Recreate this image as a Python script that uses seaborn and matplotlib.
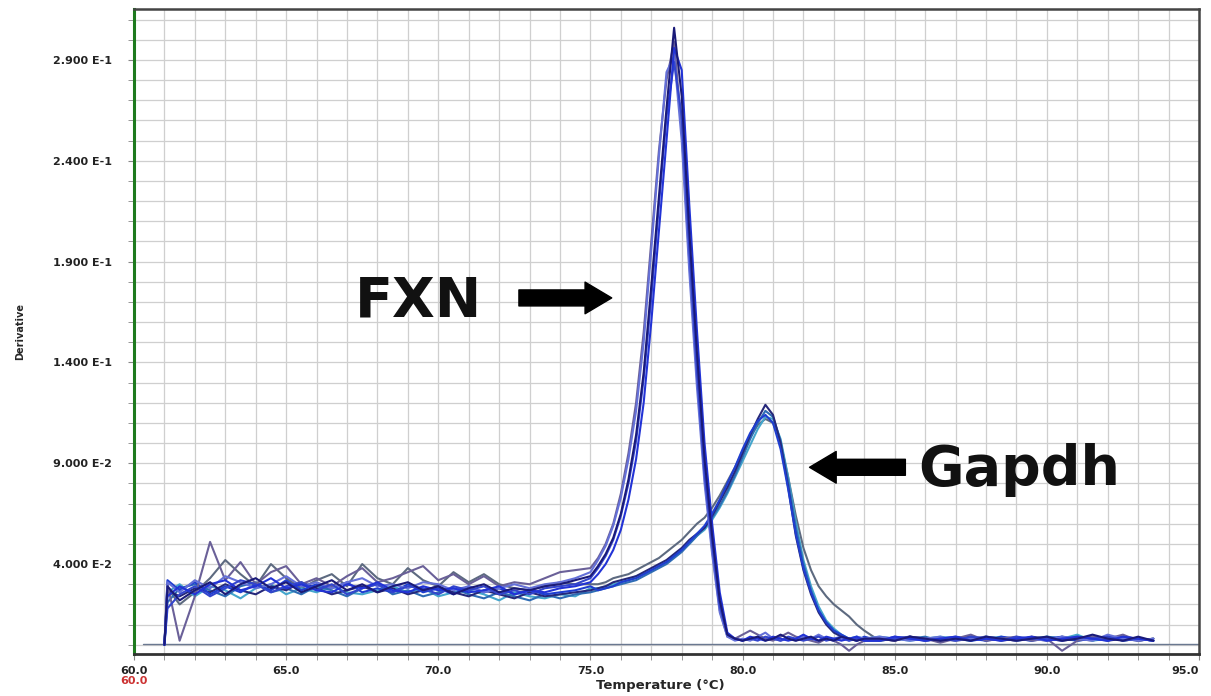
import numpy as np
import pandas as pd
import matplotlib
matplotlib.use("Agg")
import matplotlib.pyplot as plt
from matplotlib.ticker import MultipleLocator, FixedLocator, FuncFormatter
import seaborn as sns

# ---------------- data ----------------
temps = [61.0, 61.1, 61.5, 62.0, 62.5, 63.0, 63.5, 64.0, 64.5, 65.0, 65.5, 66.0, 66.5, 67.0, 67.5,
         68.0, 68.5, 69.0, 69.5, 70.0, 70.5, 71.0, 71.5, 72.0, 72.5, 73.0, 73.5, 74.0, 74.5, 75.0,
         75.25, 75.5, 75.75, 76.0, 76.25, 76.5, 76.75, 77.0, 77.25, 77.5, 77.75, 78.0, 78.25, 78.5,
         78.75, 79.0, 79.25, 79.5, 79.75, 80.0, 80.25, 80.5, 80.75, 81.0, 81.25, 81.5, 81.75, 82.0,
         82.25, 82.5, 82.75, 83.0, 83.25, 83.5, 83.75, 84.0,
         84.5, 85.0, 85.5, 86.0, 86.5, 87.0, 87.5, 88.0, 88.5, 89.0, 89.5, 90.0, 90.5, 91.0, 91.5,
         92.0, 92.5, 93.0, 93.5]

fxn_1 = [0.0, .029, .022, .027, .031, .025, .030, .033, .028, .031, .026, .029, .032, .027, .030,
         .026, .029, .031, .027, .029, .025, .028, .030, .026, .028, .027, .029, .030, .032, .034,
         .039, .045, .053, .065, .082, .104, .135, .178, .222, .266, .306, .272, .205, .145, .092,
         .054, .022, .005, .003, .002, .003, .004, .002, .003, .005, .003, .002, .003, .004, .002,
         .003, .002, .004, .003, .002, .003,
         .003, .002, .004, .003, .002, .003, .002, .004, .003, .002, .003, .004, .002, .003, .005,
         .003, .002, .004, .002]
fxn_2 = [0.0, .024, .029, .025, .030, .032, .027, .029, .033, .028, .030, .027, .026, .030, .028,
         .031, .027, .026, .029, .027, .028, .026, .027, .029, .025, .027, .026, .028, .029, .031,
         .035, .040, .047, .057, .072, .092, .120, .160, .205, .250, .296, .285, .218, .156, .100,
         .060, .026, .006, .003, .002, .004, .003, .002, .004, .003, .002, .003, .005, .003, .002,
         .004, .003, .002, .003, .004, .002,
         .002, .004, .003, .002, .003, .004, .002, .003, .002, .003, .004, .002, .003, .004, .003,
         .002, .004, .003, .002]
fxn_3 = [0.0, .031, .026, .032, .028, .034, .031, .028, .030, .034, .029, .031, .028, .031, .033,
         .029, .030, .028, .031, .030, .027, .029, .026, .028, .030, .028, .030, .031, .033, .036,
         .042, .049, .059, .073, .092, .116, .150, .196, .242, .284, .292, .250, .185, .128, .080,
         .045, .016, .004, .002, .003, .002, .004, .006, .003, .002, .003, .002, .004, .003, .005,
         .003, .002, .003, .002, .004, .003,
         .004, .003, .002, .003, .004, .002, .003, .004, .003, .002, .003, .002, .004, .003, .002,
         .005, .003, .002, .003]
fxn_4 = [0.0, .018, .025, .029, .024, .028, .032, .030, .026, .029, .031, .027, .030, .025, .028,
         .030, .026, .029, .028, .025, .029, .027, .029, .025, .027, .025, .028, .029, .030, .033,
         .038, .044, .052, .064, .080, .101, .132, .172, .218, .262, .289, .262, .196, .136, .085,
         .050, .019, .005, .003, .002, .003, .002, .004, .003, .002, .004, .003, .002, .003, .004,
         .002, .003, .004, .002, .003, .002,
         .002, .003, .004, .002, .003, .002, .004, .003, .002, .004, .003, .003, .002, .004, .003,
         .004, .002, .003, .002]
fxn_5 = [0.0, .030, .002, .024, .051, .032, .041, .030, .036, .039, .030, .033, .029, .034, .038,
         .031, .033, .036, .039, .032, .035, .030, .034, .029, .031, .030, .033, .036, .037, .038,
         .043, .050, .060, .075, .095, .120, .155, .200, .245, .280, .299, .255, .190, .133, .083,
         .047, .017, .004, .003, .005, .007, .005, .003, .002, .004, .006, .004, .003, .002, .001,
         .003, .002, .000, -.003, .000, .002,
         .003, .002, .004, .003, .001, .003, .005, .002, .003, .004, .002, .003, -.003, .002, .004,
         .003, .005, .002, .003]

gapdh_1 = [0.0, .027, .024, .028, .026, .030, .027, .025, .029, .027, .031, .028, .025, .027, .029,
           .026, .028, .025, .027, .029, .026, .024, .027, .025, .023, .026, .024, .025, .026, .027,
           .028, .029, .031, .032, .033, .034, .036, .038, .040, .042, .045, .048, .052, .055, .058,
           .064, .071, .078, .086, .095, .104, .112, .119, .114, .100, .078, .054, .037, .025, .016,
           .010, .006, .004, .003, .002, .003,
           .003, .002, .004, .003, .002, .003, .004, .002, .003, .002, .004, .003, .002, .003, .004,
           .002, .003, .002, .003]
gapdh_2 = [0.0, .021, .028, .030, .027, .024, .029, .031, .026, .028, .025, .029, .027, .024, .028,
           .030, .025, .027, .024, .026, .028, .025, .023, .026, .024, .022, .025, .023, .025, .026,
           .027, .028, .029, .030, .031, .032, .034, .036, .038, .040, .043, .046, .050, .054, .058,
           .063, .069, .076, .084, .093, .102, .110, .116, .113, .101, .081, .058, .040, .027, .017,
           .011, .007, .004, .003, .003, .002,
           .002, .003, .003, .004, .002, .003, .002, .004, .003, .003, .002, .004, .003, .002, .003,
           .004, .002, .003, .002]
gapdh_3 = [0.0, .026, .030, .024, .029, .027, .023, .028, .030, .025, .028, .026, .029, .026, .025,
           .027, .029, .026, .028, .024, .026, .027, .025, .022, .026, .024, .023, .025, .024, .028,
           .028, .029, .030, .031, .032, .034, .035, .037, .039, .041, .044, .047, .050, .054, .057,
           .062, .068, .075, .083, .091, .099, .107, .113, .112, .102, .083, .061, .042, .029, .019,
           .012, .008, .005, .003, .004, .003,
           .004, .003, .002, .003, .004, .003, .002, .003, .004, .002, .003, .004, .003, .005, .002,
           .003, .004, .002, .003]
gapdh_4 = [0.0, .032, .027, .031, .025, .029, .026, .030, .027, .032, .027, .030, .028, .031, .026,
           .028, .026, .030, .026, .028, .025, .029, .026, .028, .025, .027, .025, .026, .027, .029,
           .027, .028, .029, .031, .032, .033, .035, .037, .039, .041, .044, .047, .051, .055, .059,
           .065, .072, .080, .088, .097, .105, .111, .114, .110, .097, .077, .055, .038, .026, .017,
           .011, .007, .005, .003, .002, .004,
           .002, .004, .003, .002, .003, .004, .003, .002, .004, .003, .002, .003, .004, .002, .003,
           .002, .004, .003, .002]
gapdh_5 = [0.0, .028, .020, .026, .033, .042, .035, .029, .040, .033, .028, .032, .035, .029, .040,
           .033, .030, .038, .032, .029, .036, .031, .035, .030, .028, .027, .029, .031, .030, .030,
           .030, .031, .033, .034, .035, .037, .039, .041, .043, .046, .049, .052, .056, .060, .063,
           .068, .074, .081, .088, .096, .103, .109, .112, .110, .100, .083, .064, .048, .037, .029,
           .024, .020, .017, .014, .010, .007,
           .002, .003, .004, .002, .003, .002, .003, .004, .002, .003, .003, .002, .004, .003, .002,
           .004, .002, .003, .002]

traces = {"Gapdh 5": gapdh_5, "Gapdh 3": gapdh_3, "Gapdh 2": gapdh_2, "Gapdh 1": gapdh_1,
          "Gapdh 4": gapdh_4, "FXN 5": fxn_5, "FXN 3": fxn_3, "FXN 4": fxn_4,
          "FXN 2": fxn_2, "FXN 1": fxn_1}

yticks_major = [0.04, 0.09, 0.14, 0.19, 0.24, 0.29]
xticks_major = [60, 65, 70, 75, 80, 85, 90, 95]

colors = {"FXN 1": "#1a1a78", "FXN 2": "#2233d6", "FXN 3": "#6470d8", "FXN 4": "#3345cc",
          "FXN 5": "#6a6098", "Gapdh 1": "#26287a", "Gapdh 2": "#2e6cb4", "Gapdh 3": "#45a6cc",
          "Gapdh 4": "#1f3ed0", "Gapdh 5": "#5d6a80"}

rows = []
for name, vals in traces.items():
    for t, v in zip(temps, vals):
        rows.append((name, t, v))
df = pd.DataFrame(rows, columns=["trace", "temp", "deriv"])

# ---------------- figure ----------------
sns.set_style("white")
plt.rcParams["font.family"] = ["DejaVu Sans"]

fig = plt.figure(figsize=(12.11, 6.96), dpi=100)
ax = fig.add_axes([134 / 1211, 1 - 654 / 696, (1199 - 134) / 1211, (654 - 9) / 696])

ax.set_xlim(60, 95)
ax.set_ylim(-0.0046, 0.3153)

ax.xaxis.set_major_locator(FixedLocator(xticks_major))
ax.xaxis.set_minor_locator(MultipleLocator(1.0))
ax.yaxis.set_major_locator(FixedLocator(yticks_major))
ax.yaxis.set_minor_locator(MultipleLocator(0.01))
ax.grid(True, which="both", color="#cfcfcf", lw=0.9)
ax.set_axisbelow(True)

def yfmt(v, pos):
    e = int(np.floor(np.log10(abs(v))))
    return f"{v / 10 ** e:.3f} E{e}"

ax.yaxis.set_major_formatter(FuncFormatter(yfmt))
ax.xaxis.set_major_formatter(FuncFormatter(lambda v, p: f"{v:.1f}"))
ax.tick_params(axis="both", which="both", direction="out", length=4, color="#888888",
               labelsize=8, labelcolor="#222222")
ax.tick_params(axis="y", which="both", pad=12, left=True)
ax.tick_params(axis="x", which="both", pad=5, bottom=True)

ax.axhline(0.0003, xmin=0.3 / 35, xmax=1.0, color="#6a7890", lw=1.0, zorder=2)

sns.lineplot(data=df, x="temp", y="deriv", hue="trace", palette=colors, estimator=None,
             sort=False, legend=False, lw=1.5, ax=ax, zorder=3)

fig.canvas.draw()
for lab in ax.get_xticklabels() + ax.get_yticklabels():
    lab.set_fontweight("bold")
xlabs = ax.get_xticklabels()
xlabs[-1].set_horizontalalignment("right")

ax.set_xlabel("Temperature (°C)", fontsize=9.5, fontweight="bold")
ax.xaxis.set_label_coords(0.494, -0.039)
ax.set_ylabel("Derivative", fontsize=7, fontweight="bold", labelpad=20)

ax.text(60, -0.018, "60.0", color="#cc3333", fontsize=8, fontweight="bold",
        ha="center", va="center", clip_on=False)

for side in ["top", "right"]:
    ax.spines[side].set_color("#444444")
    ax.spines[side].set_linewidth(1.8)
    ax.spines[side].set_visible(True)
ax.spines["bottom"].set_color("#333333")
ax.spines["bottom"].set_linewidth(2)
ax.spines["left"].set_color("#1e7a1e")
ax.spines["left"].set_linewidth(2.2)
ax.spines["bottom"].set_visible(True)
ax.spines["left"].set_visible(True)

# annotations
ax.text(69.35, 0.163, "FXN", fontsize=40, fontweight="heavy", ha="center", va="baseline",
        color="#111111", zorder=5)
ax.text(89.1, 0.0792, "Gapdh", fontsize=40, fontweight="heavy", ha="center", va="baseline",
        color="#111111", zorder=5)
arrow_style = "simple,head_length=0.8,head_width=0.95,tail_width=0.48"
ax.annotate("", xy=(75.7, 0.172), xytext=(72.65, 0.172),
            arrowprops=dict(arrowstyle=arrow_style, color="black", mutation_scale=24,
                            shrinkA=0, shrinkB=0), zorder=5)
ax.annotate("", xy=(82.2, 0.088), xytext=(85.35, 0.088),
            arrowprops=dict(arrowstyle=arrow_style, color="black", mutation_scale=24,
                            shrinkA=0, shrinkB=0), zorder=5)

fig.savefig("out.png", dpi=100)
